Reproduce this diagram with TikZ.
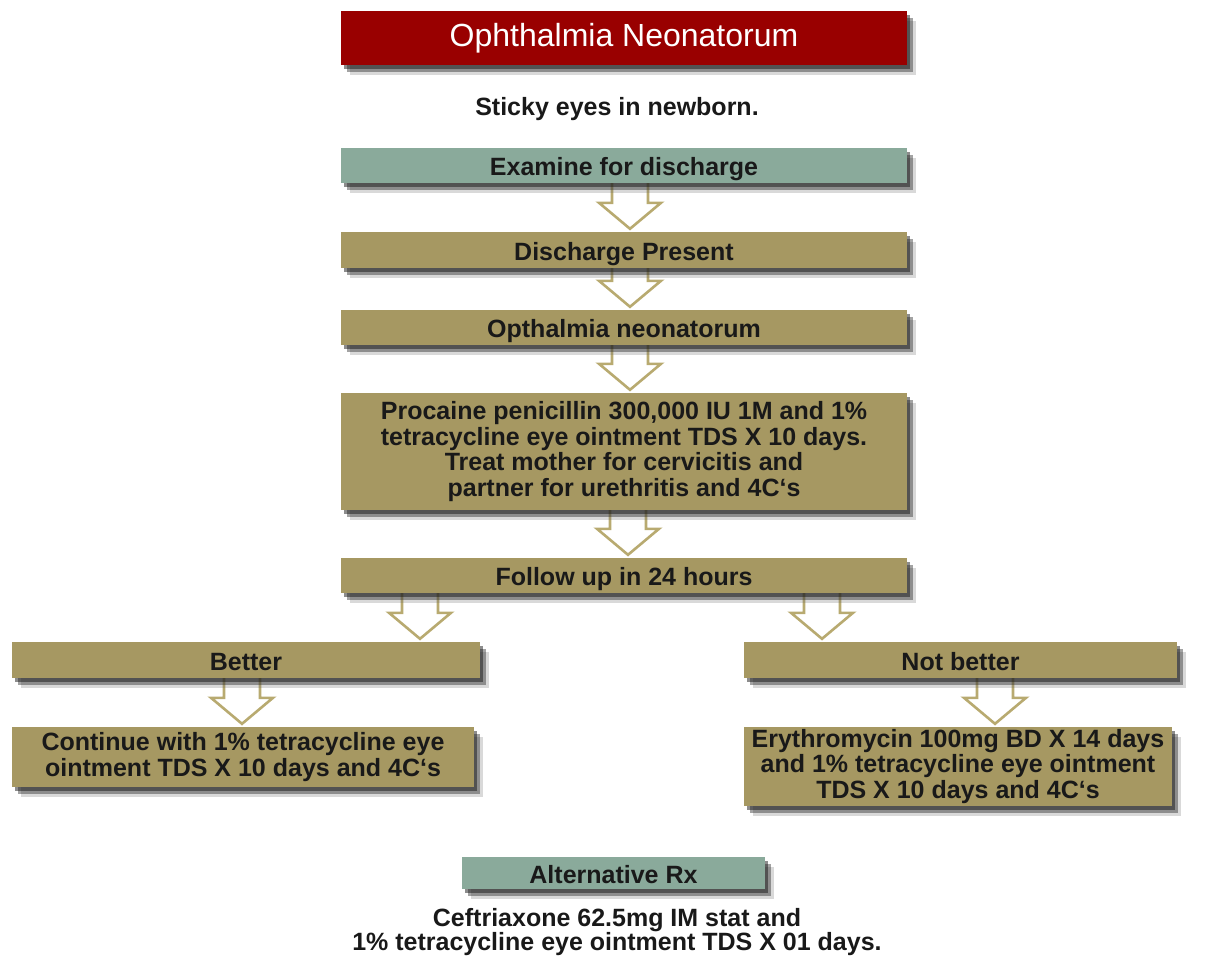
\documentclass[tikz,border=0pt]{standalone}
\usepackage{fontspec}
\setmainfont{Liberation Sans}
\usetikzlibrary{shadows,backgrounds,calc}
\definecolor{tanc}{RGB}{166,152,98}
\definecolor{tealc}{RGB}{138,170,155}
\definecolor{redc}{RGB}{153,0,0}
\definecolor{arrc}{RGB}{184,170,112}
\newcommand{\hollowarrow}[3]{%
  \draw[hollow] let \p1=(#1.south), \p2=(#2.north) in
    ({(#3-18)*1pt},\y1) -- ({(#3-18)*1pt},{\y2+29pt}) -- ({(#3-31)*1pt},{\y2+29pt})
    -- ({#3*1pt},{\y2+3pt}) -- ({(#3+31)*1pt},{\y2+29pt}) -- ({(#3+18)*1pt},{\y2+29pt})
    -- ({(#3+18)*1pt},\y1);}
\begin{document}
\begin{tikzpicture}[x=1pt,y=-1pt,
  shad/.style={drop shadow={shadow xshift=9pt,shadow yshift=-10pt,opacity=.25,fill=black!60},
               drop shadow={shadow xshift=6pt,shadow yshift=-7pt,opacity=.45,fill=black!80},
               drop shadow={shadow xshift=3pt,shadow yshift=-4pt,opacity=.5,fill=black!90}},
  boxbase/.style={shad,inner sep=0pt,align=center,text=black!90,
    font=\bfseries\fontsize{25}{25.5}\selectfont},
  tanbox/.style={boxbase,fill=tanc},
  tealbox/.style={boxbase,fill=tealc},
  oneline/.style={text height=20pt,text depth=0pt},
  redbox/.style={shad,inner sep=0pt,fill=redc,text=white,font=\fontsize{32}{34}\selectfont},
  plaintext/.style={inner sep=0pt,align=center,text=black!90,font=\bfseries\fontsize{25}{24.5}\selectfont},
  hollow/.style={draw=arrc,line width=2.6pt,fill=white,line join=miter}]
\useasboundingbox (0,0) rectangle (1232,971);

\node[redbox,minimum width=566,minimum height=54] (title) at (624,38) {Ophthalmia Neonatorum};
\node[plaintext] (sticky) at (617,109) {Sticky eyes in newborn.};
\node[tealbox,oneline,minimum width=566,minimum height=35] (exam) at (624,165.5) {Examine for discharge};
\node[tanbox,oneline,minimum width=566,minimum height=36] (disc) at (624,250) {Discharge Present};
\node[tanbox,oneline,minimum width=566,minimum height=35] (opth) at (624,327.5) {Opthalmia neonatorum};
\node[tanbox,minimum width=566,minimum height=117] (proc) at (624,451.5)
  {Procaine penicillin 300,000 IU 1M and 1\%\\tetracycline eye ointment TDS X 10 days.\\Treat mother for cervicitis and\\partner for urethritis and 4C`s};
\node[tanbox,oneline,minimum width=566,minimum height=35] (follow) at (624,575.5) {Follow up in 24 hours};
\node[tanbox,oneline,minimum width=468,minimum height=36] (better) at (246,660) {Better};
\node[tanbox,oneline,minimum width=433,minimum height=36] (notbetter) at (960.5,660) {Not better};
\node[tanbox,minimum width=462,minimum height=60] (cont) at (243,757)
  {Continue with 1\% tetracycline eye\\ointment TDS X 10 days and 4C`s};
\node[tanbox,minimum width=428,minimum height=79] (ery) at (958,766.5)
  {Erythromycin 100mg BD X 14 days\\and 1\% tetracycline eye ointment\\TDS X 10 days and 4C`s};
\node[tealbox,oneline,minimum width=303,minimum height=32] (alt) at (613.5,873) {Alternative Rx};
\node[plaintext] (ceft) at (617,932) {Ceftriaxone 62.5mg IM stat and\\1\% tetracycline eye ointment TDS X 01 days.};

\begin{scope}[on background layer]
\hollowarrow{exam}{disc}{630}
\hollowarrow{disc}{opth}{630}
\hollowarrow{opth}{proc}{630}
\hollowarrow{proc}{follow}{628}
\hollowarrow{follow}{better}{420}
\hollowarrow{follow}{notbetter}{822}
\hollowarrow{better}{cont}{242}
\hollowarrow{notbetter}{ery}{995}
\end{scope}
\end{tikzpicture}
\end{document}
